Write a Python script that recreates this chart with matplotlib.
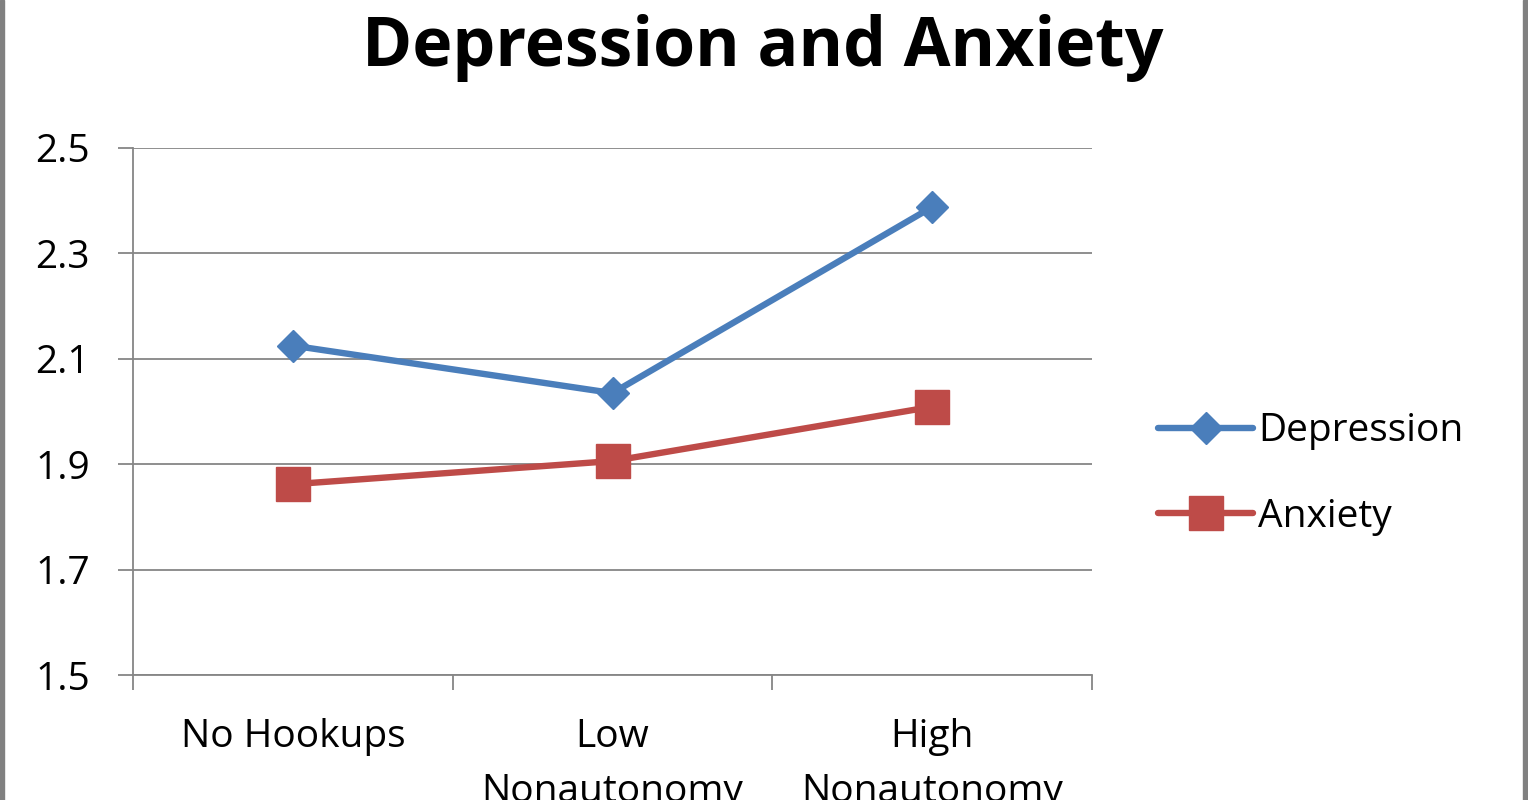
import matplotlib
matplotlib.use("Agg")
import matplotlib.pyplot as plt
from matplotlib.patches import Rectangle

categories = ["No Hookups", "Low\nNonautonomy", "High\nNonautonomy"]
depression = [2.125, 2.035, 2.388]
anxiety = [1.862, 1.906, 2.009]
yticks = [1.5, 1.7, 1.9, 2.1, 2.3, 2.5]

plt.rcParams['font.family'] = ['Open Sans', 'DejaVu Sans']

fig = plt.figure(figsize=(15.28, 8.0), dpi=100)
ax = fig.add_axes([133/1528, 1-675/800, (1092-133)/1528, (675-148)/800])

x = [i + 0.5 for i in range(len(categories))]
ax.plot(x, depression, color='#4A7EBB', lw=4.6, marker='D', markersize=16,
        label='Depression', solid_capstyle='round')
ax.plot(x, anxiety, color='#BE4B48', lw=4.6, marker='s', markersize=24,
        label='Anxiety', solid_capstyle='round')

ax.set_xlim(0, 3)
ax.set_ylim(1.5, 2.5)
ax.set_yticks(yticks)
ax.set_yticklabels([f"{v:.1f}" for v in yticks], fontsize=28)
ax.yaxis.grid(True, color='#868686', lw=1.3)
ax.set_axisbelow(True)
ax.set_xticks([0, 1, 2, 3])
ax.set_xticklabels([])
ax.set_xticks(x, minor=True)
ax.set_xticklabels(categories, minor=True, fontsize=28, linespacing=1.6, va='top')
ax.tick_params(axis='x', which='minor', length=0, pad=31)
ax.tick_params(axis='x', which='major', length=11, width=1.3, color='#868686')
ax.tick_params(axis='y', length=11, width=1.3, color='#868686', pad=20)
for s in ['top', 'right']:
    ax.spines[s].set_visible(False)
for s in ['left', 'bottom']:
    ax.spines[s].set_color('#868686')
    ax.spines[s].set_linewidth(1.3)

fig.text(763/1528, 1-48/800, "Depression and Anxiety", ha='center', va='center',
         fontsize=49, fontweight='bold')

leg = ax.legend(loc='center left', bbox_to_anchor=(1158/1528, 1-474/800),
                bbox_transform=fig.transFigure, frameon=False, fontsize=28,
                handlelength=2.45, handletextpad=0.12, labelspacing=1.22,
                borderpad=0, borderaxespad=0)

fig.patches.append(Rectangle((0, 0), 4/1528, 1, transform=fig.transFigure,
                             color='#808080', zorder=10))
fig.patches.append(Rectangle((1-5/1528, 0), 5/1528, 1, transform=fig.transFigure,
                             color='#808080', zorder=10))

fig.savefig("out.png", dpi=100)
